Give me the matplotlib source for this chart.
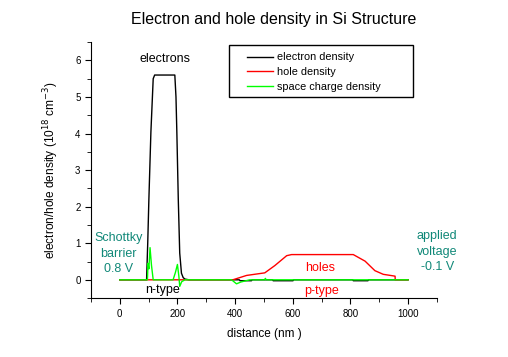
import numpy as np
import matplotlib
matplotlib.use("Agg")
import matplotlib.pyplot as plt
from matplotlib.patches import Rectangle
from matplotlib.ticker import MultipleLocator

plt.rcParams["font.family"] = ["Liberation Sans", "DejaVu Sans"]

# ---------------- DATA ----------------
# electron density (10^18 cm^-3) vs distance (nm)
elec_x = [0, 90, 93, 97, 101, 108, 116, 121, 191, 195, 198, 203, 208, 214, 220, 226, 240,
          415, 417, 457, 459, 530, 532, 601, 603, 808, 810, 861, 863, 1000]
elec_y = [0, 0, 0.0, 1.0, 2.2, 4.04, 5.5, 5.6, 5.6, 5.0, 4.04, 2.2, 0.73, 0.18, 0.06, 0.02, 0,
          0, -0.025, -0.025, 0, 0, -0.025, -0.025, 0, 0, -0.025, -0.025, 0, 0]

# hole density
hole_x = [0, 392, 440, 503, 538, 579, 596, 810, 851, 885, 914, 955, 955.5, 1000]
hole_y = [0, 0, 0.12, 0.19, 0.39, 0.66, 0.69, 0.69, 0.51, 0.25, 0.15, 0.1, 0, 0]

# space charge density
sc_x = [0, 96, 98, 101, 105, 110, 116, 185, 193, 200, 205, 208, 215, 226,
        388, 405, 420, 451, 503, 505, 508, 1000]
sc_y = [0, 0, 0.45, 0.3, 0.88, 0.4, 0, 0, 0.2, 0.42, 0.1, -0.18, -0.05, 0,
        0, -0.11, -0.06, 0, 0, 0.04, 0, 0]

TEAL = "#108878"
# ---------------------------------------------------------------

fig = plt.figure(figsize=(5.08, 3.57), dpi=100)
ax = fig.add_axes([0.179, 0.165, 0.681, 0.717])

ax.plot(elec_x, elec_y, color="black", lw=1.0, label="electron density")
ax.plot(hole_x, hole_y, color="red", lw=1.0, label="hole density")
ax.plot(sc_x, sc_y, color="#00ff00", lw=1.0, label="space charge density")

ax.set_xlim(-100, 1100)
ax.set_ylim(-0.5, 6.5)
ax.set_xticks(range(0, 1001, 200))
ax.xaxis.set_minor_locator(MultipleLocator(100))
ax.yaxis.set_major_locator(MultipleLocator(1))
ax.yaxis.set_minor_locator(MultipleLocator(0.5))
ax.tick_params(which="both", direction="out", labelsize=7)
ax.tick_params(which="major", length=4)
ax.tick_params(which="minor", length=3)

for s in ["top", "right"]:
    ax.spines[s].set_visible(False)

ax.set_xlabel("distance (nm )", fontsize=8.5, labelpad=7)
ax.set_ylabel("electron/hole density (10$^{18}$ cm$^{-3}$)", fontsize=8.6, labelpad=10)
fig.text(0.538, 0.944, "Electron and hole density in Si Structure", ha="center",
         va="center", fontsize=11.5)

# legend: entries without frame, box drawn separately (wide box as in original)
leg = ax.legend(loc="upper left", bbox_to_anchor=(0.451, 0.96), fontsize=7.8,
                frameon=False, handlelength=2.4, borderpad=0, borderaxespad=0,
                labelspacing=0.45, handletextpad=0.4)
ax.add_patch(Rectangle((0.399, 0.785), 0.532, 0.203, transform=ax.transAxes,
                       fill=False, edgecolor="black", lw=1.0, clip_on=False))

ax.text(156, 6.05, "electrons", ha="center", va="center", fontsize=9)
ax.text(150, -0.28, "n-type", ha="center", va="center", fontsize=9)
ax.text(694, 0.33, "holes", ha="center", va="center", fontsize=9, color="red")
ax.text(700, -0.3, "p-type", ha="center", va="center", fontsize=9, color="red")
ax.text(-5, 0.71, "Schottky\nbarrier\n0.8 V", ha="center", va="center", fontsize=9,
        color=TEAL, linespacing=1.4)
ax.text(1101, 0.77, "applied\nvoltage\n-0.1 V", ha="center", va="center", fontsize=9,
        color=TEAL, linespacing=1.4, clip_on=False)

fig.savefig("out.png", dpi=100)
